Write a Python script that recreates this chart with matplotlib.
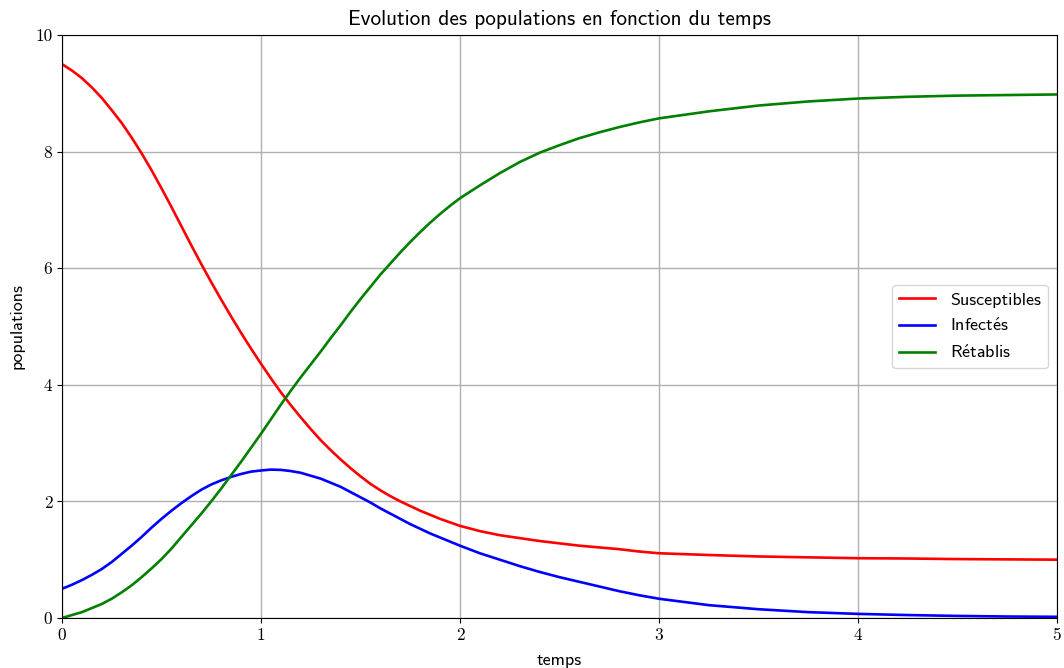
import numpy as np
from matplotlib import pyplot as plt

# Values
t = [0.00, 0.05, 0.10, 0.15, 0.20, 0.25, 0.30, 0.35, 0.40, 0.45,
     0.50, 0.55, 0.60, 0.65, 0.70, 0.75, 0.80, 0.85, 0.90, 0.95,
     1.00, 1.05, 1.10, 1.15, 1.20, 1.25, 1.30, 1.35, 1.40, 1.45,
     1.50, 1.55, 1.60, 1.65, 1.70, 1.75, 1.80, 1.85, 1.90, 1.95,
     2.00, 2.10, 2.20, 2.30, 2.40, 2.50, 2.60, 2.70, 2.80, 2.90,
     3.00, 3.25, 3.50, 3.75, 4.00, 4.25, 4.50, 4.75, 5.00]
susceptibles = [9.50, 9.39, 9.26, 9.10, 8.92, 8.71, 8.49, 8.24, 7.97, 7.68,
                7.37, 7.05, 6.72, 6.39, 6.07, 5.76, 5.46, 5.17, 4.89, 4.62,
                4.36, 4.11, 3.87, 3.65, 3.44, 3.24, 3.05, 2.88, 2.72, 2.57,
                2.43, 2.30, 2.19, 2.09, 2.00, 1.92, 1.84, 1.77, 1.70, 1.64,
                1.58, 1.49, 1.42, 1.37, 1.32, 1.28, 1.24, 1.21, 1.18, 1.14,
                1.11, 1.08, 1.055, 1.04, 1.025, 1.02, 1.01, 1.005, 1.00]
infectes = [0.50, 0.57, 0.65, 0.74, 0.84, 0.96, 1.10, 1.24, 1.39, 1.55,
            1.70, 1.84, 1.97, 2.09, 2.20, 2.29, 2.36, 2.42, 2.47, 2.51,
            2.53, 2.545, 2.54, 2.52, 2.49, 2.44, 2.39, 2.32, 2.25, 2.16,
            2.07, 1.98, 1.88, 1.79, 1.70, 1.61, 1.53, 1.45, 1.38, 1.31,
            1.24, 1.11, 1.00, 0.89, 0.79, 0.70, 0.62, 0.54, 0.46, 0.39,
            0.33, 0.22, 0.15, 0.10, 0.07, 0.05, 0.035, 0.025, 0.02]
retablis = [0.00, 0.05, 0.10, 0.17, 0.24, 0.33, 0.44, 0.56, 0.70, 0.85,
            1.01, 1.19, 1.39, 1.59, 1.79, 2.00, 2.22, 2.45, 2.68, 2.92,
            3.16, 3.41, 3.66, 3.90, 4.13, 4.35, 4.57, 4.80, 5.02, 5.25,
            5.47, 5.68, 5.89, 6.08, 6.27, 6.45, 6.62, 6.78, 6.93, 7.07,
            7.20, 7.42, 7.63, 7.82, 7.98, 8.11, 8.23, 8.33, 8.42, 8.50,
            8.57, 8.69, 8.79, 8.86, 8.91, 8.94, 8.96, 8.97, 8.98]

plt.rcParams['mathtext.fontset'] = 'cm'
sans = ['cmss10', 'DejaVu Sans']

fig = plt.figure(figsize=(10.64, 6.68), dpi=100)
ax = fig.add_axes([0.0583, 0.0749, 0.935, 0.8727])

ax.plot(t, susceptibles, color='red', lw=1.9, label='Susceptibles')
ax.plot(t, infectes, color='blue', lw=1.9, label=r'$\mathsf{Infect\acute{e}s}$')
ax.plot(t, retablis, color='green', lw=1.9, label=r'$\mathsf{R\acute{e}tablis}$')

ax.set_xlim(0, 5)
ax.set_ylim(0, 10)
ax.set_xticks([0, 1, 2, 3, 4, 5])
ax.set_yticks([0, 2, 4, 6, 8, 10])
for lab in ax.get_xticklabels() + ax.get_yticklabels():
    lab.set_fontfamily('cmr10')
    lab.set_fontsize(12.5)
ax.grid(True, color='#b0b0b0', lw=1)

ax.set_title('Evolution des populations en fonction du temps', family=sans, fontsize=15.3, pad=7.5)
ax.set_xlabel('temps', family=sans, fontsize=13, labelpad=7)
ax.set_ylabel('populations', family=sans, fontsize=13, labelpad=7.5)
leg = ax.legend(loc='center right', prop={'family': sans, 'size': 13})

plt.savefig('out.png', dpi=100)
